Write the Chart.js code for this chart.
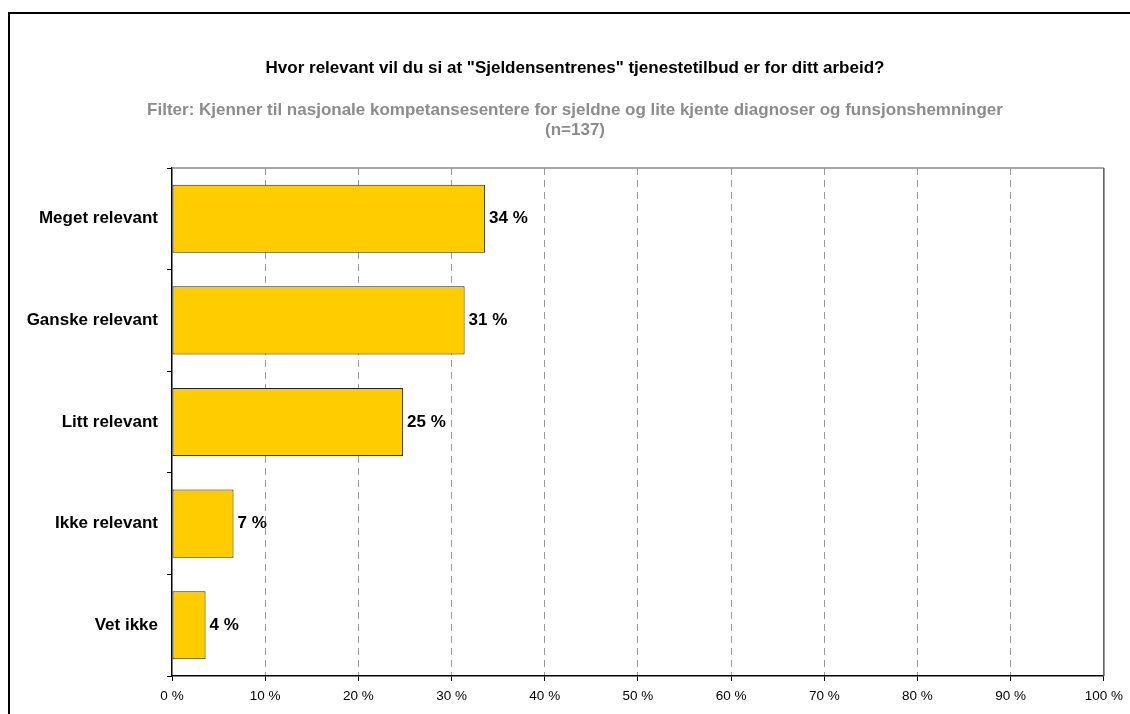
<!DOCTYPE html>
<html>
<head>
<meta charset="utf-8">
<script src="https://cdn.jsdelivr.net/npm/chart.js@4.4.1/dist/chart.umd.min.js"></script>
<style>
  html, body { margin: 0; padding: 0; background: #fff; }
  #wrap { position: relative; width: 1130px; height: 714px; }
</style>
</head>
<body>
<div id="wrap"><canvas id="relevansChart"></canvas></div>
<script>
// --- DATA ---
const categories = ['Meget relevant', 'Ganske relevant', 'Litt relevant', 'Ikke relevant', 'Vet ikke'];
const shares = [33.6, 31.4, 24.8, 6.6, 3.6]; // prosent av n=137
const xTicks = [0, 10, 20, 30, 40, 50, 60, 70, 80, 90, 100];

const titleText = 'Hvor relevant vil du si at "Sjeldensentrenes" tjenestetilbud er for ditt arbeid?';
const subtitleLines = [
    'Filter: Kjenner til nasjonale kompetansesentere for sjeldne og lite kjente diagnoser og funsjonshemninger',
    '(n=137)'
];

const FONT = 'Arial, "Liberation Sans", Helvetica, sans-serif';
const HEAD_X = 575; // midten av rammen, ikke av plottet

// ramme rundt hele figuren (venstre + topp) og plottets topp/høyre kant
const framePlugin = {
    id: 'frame',
    beforeDraw(chart) {
        const c = chart.ctx;
        c.save();
        c.strokeStyle = '#000';
        c.lineWidth = 2;
        c.beginPath();
        c.moveTo(9, chart.height);
        c.lineTo(9, 13);
        c.lineTo(chart.width, 13);
        c.stroke();
        c.restore();
    },
    afterDraw(chart) {
        const a = chart.chartArea;
        const c = chart.ctx;
        c.save();
        c.lineWidth = 1.5;
        c.strokeStyle = '#8a8a8a';
        c.beginPath();
        c.moveTo(a.left, a.top);
        c.lineTo(a.right, a.top);
        c.stroke();
        c.strokeStyle = '#555';
        c.beginPath();
        c.moveTo(a.right, a.top);
        c.lineTo(a.right, a.bottom);
        c.stroke();
        c.restore();
    }
};

// overskrift + filtertekst
const headingPlugin = {
    id: 'heading',
    afterDraw(chart) {
        const c = chart.ctx;
        c.save();
        c.textAlign = 'center';
        c.textBaseline = 'middle';
        c.font = 'bold 17px ' + FONT;
        c.fillStyle = '#000';
        c.fillText(titleText, HEAD_X, 68);
        c.fillStyle = '#8c8c8c';
        subtitleLines.forEach((line, i) => c.fillText(line, HEAD_X, 110 + i * 20));
        c.restore();
    }
};

// verdietiketter til høyre for hver stolpe
const valueLabels = {
    id: 'valueLabels',
    afterDatasetsDraw(chart) {
        const c = chart.ctx;
        const meta = chart.getDatasetMeta(0);
        c.save();
        c.font = 'bold 17px ' + FONT;
        c.fillStyle = '#000';
        c.textAlign = 'left';
        c.textBaseline = 'middle';
        meta.data.forEach((bar, i) => {
            c.fillText(Math.round(shares[i]) + ' %', bar.x + 4, bar.y);
        });
        c.restore();
    }
};

const ctx = document.getElementById('relevansChart').getContext('2d');
new Chart(ctx, {
    type: 'bar',
    data: {
        labels: categories,
        datasets: [{
            data: shares,
            backgroundColor: '#ffcc00',
            borderColor: '#222',
            borderWidth: 1,
            borderSkipped: false,
            categoryPercentage: 0.67,
            barPercentage: 1
        }]
    },
    options: {
        indexAxis: 'y',
        responsive: true,
        maintainAspectRatio: false,
        animation: false,
        layout: { padding: { left: 12, right: 25, top: 168, bottom: 0 } },
        plugins: {
            legend: { display: false },
            tooltip: { enabled: false },
            title: { display: false }
        },
        scales: {
            x: {
                min: 0,
                max: 100,
                afterBuildTicks(scale) {
                    scale.ticks = xTicks.map(v => ({ value: v }));
                },
                afterFit(scale) { scale.height = 38; },
                ticks: {
                    color: '#000',
                    font: { family: FONT, size: 13.5 },
                    padding: 7,
                    maxRotation: 0,
                    callback: v => v + ' %'
                },
                grid: {
                    color: c => (c.tick && (c.tick.value === 0 || c.tick.value === 100)) ? 'rgba(0,0,0,0)' : '#9a9a9a',
                    lineWidth: 1,
                    tickColor: '#000',
                    tickLength: 5
                },
                border: { display: true, color: '#000', width: 1.5, dash: [7, 5] }
            },
            y: {
                // 12 (padding) + 160 = venstre kant på plottet
                afterFit(scale) { scale.width = 160; },
                ticks: {
                    color: '#000',
                    font: { family: FONT, size: 17, weight: 'bold' },
                    padding: 9
                },
                grid: {
                    offset: true,
                    drawOnChartArea: false,
                    tickColor: '#000',
                    tickLength: 5
                },
                border: { display: true, color: '#000', width: 1.5 }
            }
        }
    },
    plugins: [framePlugin, headingPlugin, valueLabels]
});
</script>
</body>
</html>
